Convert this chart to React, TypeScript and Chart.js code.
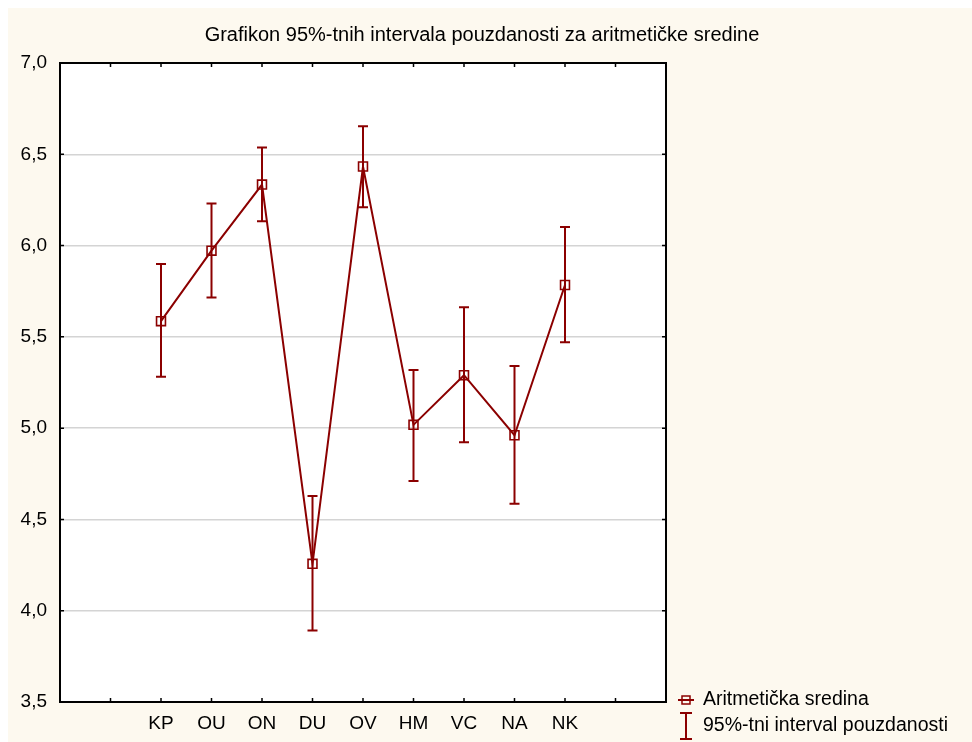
import React, { useEffect, useRef } from "react";
import { Chart, registerables } from "chart.js";

Chart.register(...registerables);

const titleText = "Grafikon 95%-tnih intervala pouzdanosti za aritmetičke sredine";
const categories = ["KP", "OU", "ON", "DU", "OV", "HM", "VC", "NA", "NK"];
const means = [5.586, 5.972, 6.334, 4.257, 6.433, 5.018, 5.29, 4.961, 5.784];
const upper = [5.899, 6.23, 6.537, 4.628, 6.654, 5.318, 5.662, 5.34, 6.102];
const lower = [5.281, 5.716, 6.133, 3.891, 6.21, 4.71, 4.923, 4.586, 5.471];
const yTicks = [3.5, 4.0, 4.5, 5.0, 5.5, 6.0, 6.5, 7.0];
const legendLabels = ["Aritmetička sredina", "95%-tni interval pouzdanosti"];
const xSlotsBefore = 2; // empty slots before first category
const xMin = 0;
const xMax = 12;

const RED = "#8B0000";
const FONT = "'Liberation Sans', Arial, Helvetica, sans-serif";

const fmt = (v: number) => v.toFixed(1).replace(".", ",");

const framePlugin = {
  id: "frame",
  beforeDraw(chart: any) {
    const { ctx, chartArea } = chart;
    ctx.save();
    ctx.fillStyle = "#FFFFFF";
    ctx.fillRect(chartArea.left, chartArea.top, chartArea.right - chartArea.left, chartArea.bottom - chartArea.top);
    ctx.restore();
  },
  afterDatasetsDraw(chart: any) {
    const { ctx, chartArea, scales } = chart;
    const xs = scales.x;
    const ys = scales.y;
    // error bars
    ctx.save();
    ctx.strokeStyle = RED;
    ctx.lineWidth = 2;
    const cap = 5;
    categories.forEach((_, i) => {
      const px = xs.getPixelForValue(i + xSlotsBefore);
      const pu = ys.getPixelForValue(upper[i]);
      const pl = ys.getPixelForValue(lower[i]);
      ctx.beginPath();
      ctx.moveTo(px, pu);
      ctx.lineTo(px, pl);
      ctx.moveTo(px - cap, pu);
      ctx.lineTo(px + cap, pu);
      ctx.moveTo(px - cap, pl);
      ctx.lineTo(px + cap, pl);
      ctx.stroke();
    });
    ctx.restore();

    // frame
    ctx.save();
    ctx.strokeStyle = "#000";
    ctx.lineWidth = 2;
    ctx.strokeRect(chartArea.left, chartArea.top, chartArea.right - chartArea.left, chartArea.bottom - chartArea.top);
    // inward ticks
    ctx.lineWidth = 1.5;
    const tl = 4;
    ctx.beginPath();
    for (let v = xMin + 1; v < xMax; v++) {
      const px = xs.getPixelForValue(v);
      ctx.moveTo(px, chartArea.bottom);
      ctx.lineTo(px, chartArea.bottom - tl);
      ctx.moveTo(px, chartArea.top);
      ctx.lineTo(px, chartArea.top + tl);
    }
    yTicks.slice(1, -1).forEach((v) => {
      const py = ys.getPixelForValue(v);
      ctx.moveTo(chartArea.left, py);
      ctx.lineTo(chartArea.left + tl, py);
      ctx.moveTo(chartArea.right, py);
      ctx.lineTo(chartArea.right - tl, py);
    });
    ctx.stroke();
    ctx.restore();

    // legend
    ctx.save();
    const lx = chartArea.right + 20;
    const y1 = chartArea.bottom - 2;
    const y2 = chartArea.bottom + 24;
    ctx.strokeStyle = RED;
    ctx.lineWidth = 2;
    ctx.beginPath();
    ctx.moveTo(lx - 8, y1);
    ctx.lineTo(lx + 8, y1);
    ctx.stroke();
    ctx.lineWidth = 1.5;
    ctx.strokeRect(lx - 4, y1 - 4, 8, 8);
    ctx.lineWidth = 2;
    ctx.beginPath();
    ctx.moveTo(lx, y2 - 13);
    ctx.lineTo(lx, y2 + 13);
    ctx.moveTo(lx - 6, y2 - 13);
    ctx.lineTo(lx + 6, y2 - 13);
    ctx.moveTo(lx - 6, y2 + 13);
    ctx.lineTo(lx + 6, y2 + 13);
    ctx.stroke();
    ctx.fillStyle = "#000";
    ctx.font = `19.5px ${FONT}`;
    ctx.textBaseline = "middle";
    ctx.textAlign = "left";
    ctx.fillText(legendLabels[0], lx + 17, y1);
    ctx.fillText(legendLabels[1], lx + 17, y2);
    ctx.restore();
  },
};

export default function App() {
  const ref = useRef<HTMLCanvasElement | null>(null);
  useEffect(() => {
    if (!ref.current) return;
    const chart = new Chart(ref.current, {
      type: "line",
      data: {
        datasets: [
          {
            label: legendLabels[0],
            data: categories.map((_, i) => ({ x: i + xSlotsBefore, y: means[i] })),
            borderColor: RED,
            borderWidth: 2,
            backgroundColor: "rgba(0,0,0,0)",
            pointStyle: "rect",
            pointRadius: 6.3,
            pointBorderWidth: 1.6,
            pointBorderColor: RED,
            pointBackgroundColor: "rgba(0,0,0,0)",
            tension: 0,
          },
        ],
      },
      options: {
        responsive: false,
        animation: false,
        layout: { padding: { left: 0, right: 16, top: 0, bottom: 0 } },
        plugins: {
          legend: { display: false },
          tooltip: { enabled: false },
          title: {
            display: true,
            text: titleText,
            color: "#000",
            font: { family: FONT, size: 20, weight: "normal" },
            padding: { top: 15, bottom: 16 },
          },
        },
        scales: {
          x: {
            type: "linear",
            min: xMin,
            max: xMax,
            grid: { display: false, drawTicks: false },
            border: { display: false },
            afterFit: (s: any) => {
              s.height = 40;
            },
            afterBuildTicks: (s: any) => {
              const t = [];
              for (let v = xMin; v <= xMax; v++) t.push({ value: v });
              s.ticks = t;
            },
            ticks: {
              autoSkip: false,
              maxRotation: 0,
              padding: 10.5,
              color: "#000",
              font: { family: FONT, size: 19 },
              callback: (v: any) => {
                const i = Number(v) - xSlotsBefore;
                return i >= 0 && i < categories.length ? categories[i] : "";
              },
            },
          },
          y: {
            min: yTicks[0],
            max: yTicks[yTicks.length - 1],
            afterFit: (s: any) => {
              s.width = 52;
            },
            afterBuildTicks: (s: any) => {
              s.ticks = yTicks.map((v) => ({ value: v }));
            },
            grid: {
              color: (c: any) =>
                c.tick && (c.tick.value === yTicks[0] || c.tick.value === yTicks[yTicks.length - 1])
                  ? "rgba(0,0,0,0)"
                  : "#D4D4D4",
              lineWidth: 1.5,
              drawTicks: false,
            },
            border: { display: false },
            ticks: {
              padding: 13,
              color: "#000",
              font: { family: FONT, size: 19 },
              callback: (v: any) => fmt(Number(v)),
            },
          },
          y2: {
            position: "right",
            min: yTicks[0],
            max: yTicks[yTicks.length - 1],
            grid: { display: false, drawTicks: false },
            border: { display: false },
            ticks: { display: false },
            afterFit: (s: any) => {
              s.width = 290;
            },
          },
        },
      },
      plugins: [framePlugin],
    } as any);
    return () => chart.destroy();
  }, []);
  return (
    <div
      style={{
        position: "fixed",
        left: 8,
        top: 8,
        right: 0,
        bottom: 0,
        background: "#FDF9EF",
        overflow: "hidden",
      }}
    >
      <canvas ref={ref} width={964} height={734} style={{ display: "block" }} />
    </div>
  );
}
